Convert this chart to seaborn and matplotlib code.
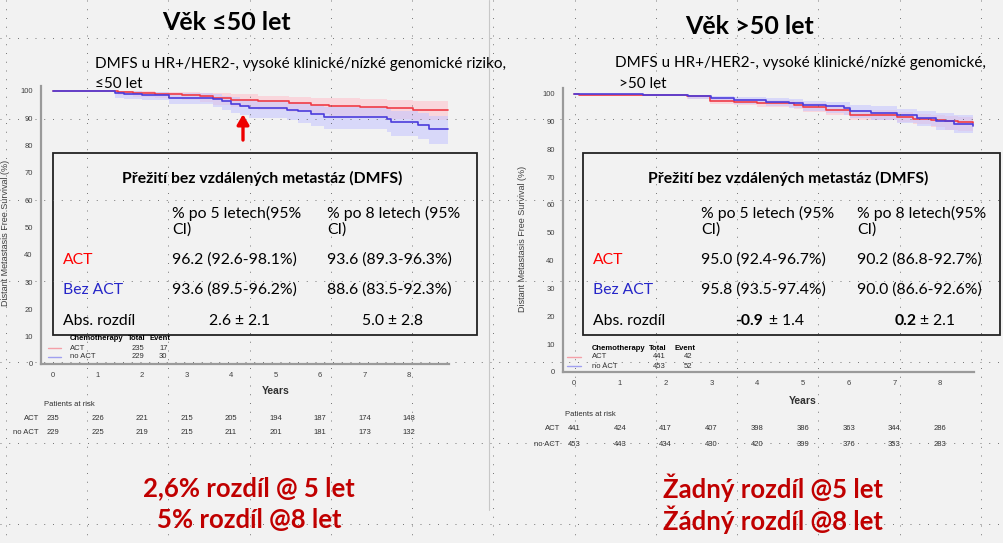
import numpy as np
import pandas as pd
import seaborn as sns
import matplotlib
matplotlib.use('Agg')
import matplotlib.pyplot as plt
from matplotlib.patches import Rectangle
from matplotlib.transforms import blended_transform_factory as btf

# ---------------- data ----------------
years = [0, 1, 2, 3, 4, 5, 6, 7, 8]

# left panel (<=50 let)
t_act_l = [0, 1.45, 1.8, 2.3, 2.9, 3.3, 3.6, 4.0, 4.6, 5.3, 5.8, 6.2, 6.9, 7.5, 8.1, 8.88]
s_act_l = [100, 99.6, 99.2, 98.9, 98.5, 98.0, 97.3, 96.8, 96.2, 95.6, 95.0, 94.6, 94.1, 93.6, 93.0, 93.0]
lo_act_l = [100, 98.6, 97.9, 97.3, 96.6, 95.8, 94.8, 94.0, 92.9, 92.2, 91.5, 91.0, 90.4, 89.9, 89.2, 89.2]
hi_act_l = [100, 100, 99.9, 99.8, 99.6, 99.4, 99.1, 98.8, 98.3, 97.9, 97.6, 97.4, 97.0, 96.6, 96.2, 96.2]

t_no_l = [0, 1.4, 1.6, 2.0, 2.6, 3.6, 3.8, 4.0, 4.2, 4.4, 5.25, 5.5, 5.8, 6.1, 7.5, 7.6, 8.2, 8.45, 8.88]
s_no_l = [100, 99.2, 98.9, 98.6, 97.6, 97.0, 96.2, 95.4, 94.6, 93.8, 93.2, 92.5, 91.6, 90.6, 89.6, 88.6, 87.6, 86.2, 86.2]
lo_no_l = [100, 97.6, 97.1, 96.6, 95.2, 94.2, 93.1, 92.1, 91.1, 90.1, 89.2, 88.3, 87.2, 86.0, 84.8, 83.6, 82.3, 80.6, 80.6]
hi_no_l = [100, 100, 99.9, 99.8, 99.2, 98.8, 98.3, 97.8, 97.2, 96.6, 96.0, 95.5, 94.9, 94.2, 93.4, 92.7, 91.9, 90.9, 90.9]

# right panel (>50 let)
t_act_r = [0, 0.1, 2.47, 2.97, 3.5, 4.0, 4.8, 5.0, 5.5, 6.03, 7.06, 7.4, 7.8, 8.1, 8.4, 8.72]
s_act_r = [100, 99.6, 99.0, 97.4, 97.0, 96.6, 96.0, 95.0, 94.0, 92.2, 91.6, 91.0, 90.5, 90.1, 89.7, 89.4]
lo_act_r = [100, 99.0, 98.2, 96.3, 95.8, 95.3, 94.6, 93.5, 92.4, 90.5, 89.7, 88.9, 88.0, 87.0, 86.4, 86.0]
hi_act_r = [100, 99.9, 99.6, 98.4, 98.1, 97.8, 97.3, 96.5, 95.6, 94.0, 93.3, 92.8, 92.4, 92.0, 91.7, 91.4]

t_no_r = [0, 1.5, 2.5, 3.0, 3.5, 4.2, 4.7, 5.0, 5.5, 5.9, 6.03, 6.5, 7.06, 7.5, 7.9, 8.3, 8.72]
s_no_r = [100, 99.6, 99.0, 98.4, 97.6, 97.1, 96.5, 95.8, 95.4, 94.9, 93.7, 93.2, 92.2, 91.3, 90.3, 89.2, 88.2]
lo_no_r = [100, 99.0, 98.2, 97.4, 96.4, 95.6, 94.8, 93.6, 93.0, 92.4, 91.2, 90.5, 89.3, 88.2, 86.9, 85.7, 85.0]
hi_no_r = [100, 100, 99.6, 99.2, 98.7, 98.3, 97.9, 97.4, 97.1, 96.8, 95.8, 95.4, 94.6, 93.8, 93.0, 92.2, 91.3]

risk_act_l = [235, 226, 221, 215, 205, 194, 187, 174, 148]
risk_no_l = [229, 225, 219, 215, 211, 201, 181, 173, 132]
risk_act_r = [441, 424, 417, 407, 398, 386, 363, 344, 286]
risk_no_r = [453, 443, 434, 430, 420, 399, 376, 353, 283]

legend_l = [('ACT', 235, 17), ('no ACT', 229, 30)]
legend_r = [('ACT', 441, 42), ('no ACT', 453, 52)]

titles = ['Věk ≤50 let', 'Věk >50 let']
subtitles_l = ['DMFS u HR+/HER2-, vysoké klinické/nízké genomické riziko,', '≤50 let']
subtitles_r = ['DMFS u HR+/HER2-, vysoké klinické/nízké genomické,', '>50 let']

tab_header = 'Přežití bez vzdálených metastáz (DMFS)'
col_heads_l = [('% po 5 letech(95%', 'CI)'), ('% po 8 letech (95%', 'CI)')]
col_heads_r = [('% po 5 letech (95%', 'CI)'), ('% po 8 letech(95%', 'CI)')]
row_labels = ['ACT', 'Bez ACT', 'Abs. rozdíl']
act_l = ['96.2 (92.6-98.1%)', '93.6 (89.3-96.3%)']
noact_l = ['93.6 (89.5-96.2%)', '88.6 (83.5-92.3%)']
diff_l = ['2.6 ± 2.1', '5.0 ± 2.8']
act_r = ['95.0 (92.4-96.7%)', '90.2 (86.8-92.7%)']
noact_r = ['95.8 (93.5-97.4%)', '90.0 (86.6-92.6%)']
diff_r = [('-0.9', '± 1.4'), ('0.2', '± 2.1')]

bottom_l = ['2,6% rozdíl @ 5 let', '5% rozdíl @8 let']
bottom_r = ['Žadný rozdíl @5 let', 'Žádný rozdíl @8 let']

# ---------------- style ----------------
sns.set_style('white')
plt.rcParams['font.family'] = ['Lato', 'DejaVu Sans']
plt.rcParams['text.color'] = 'black'
KMF = ['Liberation Sans', 'DejaVu Sans']
TFS = 11.3  # table font size

BG = '#F2F2F2'
RED = '#F03C46'
BLUE = '#4B3CDC'
RBAND = '#FFBFCB'
BBAND = '#C4C4FF'
W, H = 1004, 543

fig = plt.figure(figsize=(W / 100, H / 100), dpi=100, facecolor=BG)


def px_axes(x0, y0, x1, y1, **kw):
    return fig.add_axes([x0 / W, 1 - y1 / H, (x1 - x0) / W, (y1 - y0) / H], **kw)


def km_axes(box, xlim, ylab_xy):
    ax = px_axes(*box)
    ax.set_facecolor(BG)
    ax.set_xlim(*xlim)
    ax.set_ylim(0, 102)
    for s in ['top', 'right']:
        ax.spines[s].set_visible(False)
    for s in ['left', 'bottom']:
        ax.spines[s].set_color('#9A9A9A')
        ax.spines[s].set_linewidth(1.6)
    ax.set_xticks(years)
    ax.set_yticks(range(0, 101, 10))
    ax.tick_params(axis='both', length=3, width=0.8, color='#808080', labelsize=5.5,
                   labelcolor='#404040', pad=3, direction='out')
    for lab in ax.get_xticklabels() + ax.get_yticklabels():
        lab.set_family(KMF)
    ax.set_ylabel('Distant Metastasis Free Survival (%)', fontsize=6.5, color='#404040', family=KMF)
    ax.yaxis.set_label_coords(*ylab_xy)
    ax.set_xlabel('')
    return ax


def km_curve(ax, t, s, lo, hi, color, band):
    ax.fill_between(t, lo, hi, step='post', color=band, alpha=0.55, lw=0)
    sns.lineplot(x=t, y=s, ax=ax, color=color, drawstyle='steps-post', estimator=None,
                 lw=1.2, legend=False)


axL = km_axes((41, 85.5, 449, 364), (-0.27, 8.9), (-0.076, 0.47))
km_curve(axL, t_act_l, s_act_l, lo_act_l, hi_act_l, RED, RBAND)
km_curve(axL, t_no_l, s_no_l, lo_no_l, hi_no_l, BLUE, BBAND)
axL.annotate('', xy=(4.27, 92.5), xytext=(4.27, 81.0),
             arrowprops=dict(arrowstyle='-|>,head_width=0.35,head_length=0.6', color='#EE0000', lw=2.4))

axR = km_axes((563, 88, 974, 372), (-0.24, 8.74), (-0.088, 0.47))
km_curve(axR, t_act_r, s_act_r, lo_act_r, hi_act_r, RED, RBAND)
km_curve(axR, t_no_r, s_no_r, lo_no_r, hi_no_r, BLUE, BBAND)

# ---------------- overlay in pixel coordinates ----------------
ov = fig.add_axes([0, 0, 1, 1], zorder=10)
ov.set_xlim(0, W)
ov.set_ylim(H, 0)
ov.axis('off')
ov.patch.set_alpha(0)

# separator
ov.plot([489, 489], [0, 510], color='#C8C8C8', lw=0.8)

# titles
ov.text(226, 23, titles[0], ha='center', va='center', fontsize=18, weight='bold')
ov.text(750, 27, titles[1], ha='center', va='center', fontsize=18, weight='bold')
ov.text(95, 64, subtitles_l[0], ha='left', va='center', fontsize=11)
ov.text(95, 84, subtitles_l[1], ha='left', va='center', fontsize=11)
ov.text(615, 63, subtitles_r[0], ha='left', va='center', fontsize=11)
ov.text(619, 84, subtitles_r[1], ha='left', va='center', fontsize=11)


def table(x0, x1, col1, col2, heads, act, noact):
    ov.add_patch(Rectangle((x0, 153), x1 - x0, 182, facecolor=BG, edgecolor='#222222', lw=1.3))
    ov.text((x0 + x1) / 2 - 3, 178, tab_header, ha='center', va='center', fontsize=TFS, weight='bold')
    for cx, (h1, h2) in zip([col1, col2], heads):
        ov.text(cx, 213, h1, ha='left', va='center', fontsize=TFS)
        ov.text(cx, 230, h2, ha='left', va='center', fontsize=TFS)
    ov.text(x0 + 10, 260, row_labels[0], ha='left', va='center', fontsize=TFS, color='#FF0000')
    ov.text(x0 + 10, 290, row_labels[1], ha='left', va='center', fontsize=TFS, color='#2626C8')
    ov.text(x0 + 10, 321, row_labels[2], ha='left', va='center', fontsize=TFS)
    for cx, v in zip([col1, col2], act):
        ov.text(cx, 260, v, ha='left', va='center', fontsize=TFS)
    for cx, v in zip([col1, col2], noact):
        ov.text(cx, 290, v, ha='left', va='center', fontsize=TFS)


table(53, 477, 172, 327, col_heads_l, act_l, noact_l)
for cx, v in zip([240, 393], diff_l):
    ov.text(cx, 321, v, ha='center', va='center', fontsize=TFS)
table(583, 1000, 701, 857, col_heads_r, act_r, noact_r)
for (bx, nx), (b, n) in zip([(763, 769), (917, 920)], diff_r):
    ov.text(bx, 321, b, ha='right', va='center', fontsize=TFS, weight='bold')
    ov.text(nx, 321, n, ha='left', va='center', fontsize=TFS)


def km_legend(lx0, lx1, tx, tot_x, ev_x, y0, dy, rows):
    ov.text(tx, y0, 'Chemotherapy', fontsize=5.5, weight='bold', family=KMF, va='center')
    ov.text(tot_x - 4, y0, 'Total', fontsize=5.5, weight='bold', family=KMF, va='center')
    ov.text(ev_x, y0, 'Event', fontsize=5.5, weight='bold', family=KMF, va='center')
    for i, ((name, tot, ev), c) in enumerate(zip(rows, ['#F4A0A8', '#A0A0F0'])):
        y = y0 + dy * (i + 1)
        ov.plot([lx0, lx1], [y, y], color=c, lw=1.0)
        ov.text(tx, y, name, fontsize=5.5, family=KMF, va='center', color='#303030')
        ov.text(tot_x, y, str(tot), fontsize=5.5, family=KMF, va='center', color='#303030')
        ov.text(ev_x + 9, y, str(ev), fontsize=5.5, family=KMF, va='center', color='#303030')


km_legend(48, 61, 70, 132, 150, 339, 9, legend_l)
km_legend(567, 581, 592, 653, 675, 348, 9, legend_r)


def at_risk(ax, lab_x, y_title, y1, y2, ract, rno, yx, yy):
    tr = btf(ax.transData, ov.transData)
    ov.text(yx, yy, 'Years', ha='center', va='center', fontsize=7.5, weight='bold',
            family=KMF, color='#303030')
    ov.text(lab_x + 5, y_title, 'Patients at risk', ha='left', va='center', fontsize=5.5,
            family=KMF, color='#303030')
    ov.text(lab_x, y1, 'ACT', ha='right', va='center', fontsize=5.5, family=KMF, color='#303030')
    ov.text(lab_x, y2, 'no ACT', ha='right', va='center', fontsize=5.5, family=KMF, color='#303030')
    for x, a, b in zip(years, ract, rno):
        ov.text(x, y1, str(a), ha='center', va='center', fontsize=5.5, family=KMF,
                color='#303030', transform=tr)
        ov.text(x, y2, str(b), ha='center', va='center', fontsize=5.5, family=KMF,
                color='#303030', transform=tr)


at_risk(axL, 39, 404, 419, 433, risk_act_l, risk_no_l, 276, 391)
at_risk(axR, 560, 415, 429, 444, risk_act_r, risk_no_r, 803, 401)

# bottom conclusions
for i, (a, b) in enumerate(zip(bottom_l, bottom_r)):
    y = 488 + 32 * i
    ov.text(249, y, a, ha='center', va='center', fontsize=18.5, weight='bold', color='#C00000')
    ov.text(773, y, b, ha='center', va='center', fontsize=18.5, weight='bold', color='#C00000')

# slide guide grid (dotted)
for gx in np.arange(6, W, 81.25):
    ov.plot([gx, gx], [0, H], color='#555555', lw=0.7, ls=(0, (1, 8)), alpha=0.8)
for gy in np.arange(38, H, 81.0):
    ov.plot([0, W], [gy, gy], color='#555555', lw=0.7, ls=(0, (1, 8)), alpha=0.8)

fig.savefig('out.png', dpi=100, facecolor=BG)
